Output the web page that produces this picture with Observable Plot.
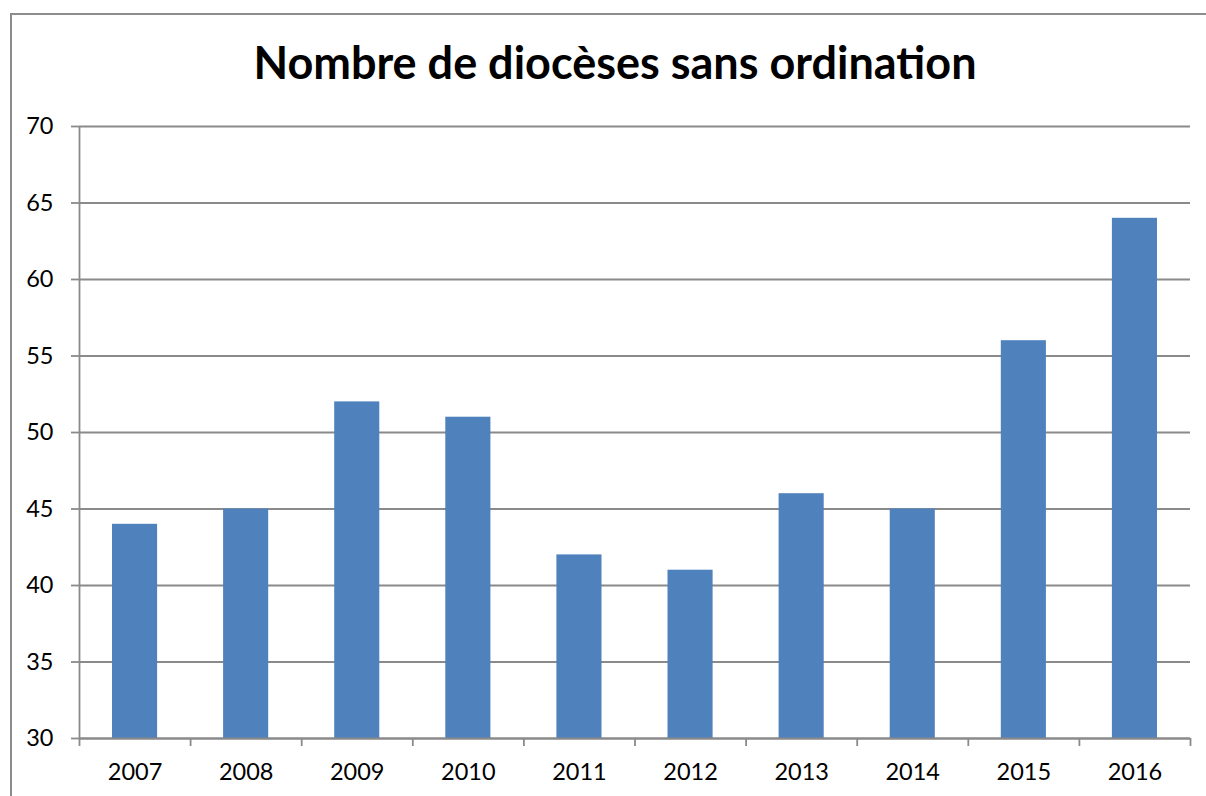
<!DOCTYPE html>
<html>
<head>
<meta charset="utf-8">
<script src="https://cdn.jsdelivr.net/npm/d3@7"></script>
<script src="https://cdn.jsdelivr.net/npm/@observablehq/plot@0.6"></script>
<style>
  html, body { margin: 0; padding: 0; background: #fff; }
  #wrap { position: relative; width: 1206px; height: 796px; overflow: hidden; }
  #frame { position: absolute; left: 10px; top: 13px; width: 1220px; height: 820px; border: 2px solid #8c8c8c; box-sizing: border-box; }
  #title { position: absolute; left: 0; width: 1230px; top: 35px; text-align: center; font-family: Lato, "Open Sans", sans-serif; font-weight: bold; font-size: 45px; color: #000; }
  #chart { position: absolute; left: 0; top: 0; }
</style>
</head>
<body>
<div id="wrap">
  <div id="frame"></div>
  <div id="title">Nombre de diocèses sans ordination</div>
  <div id="chart"></div>
</div>
<script>
const years = ["2007","2008","2009","2010","2011","2012","2013","2014","2015","2016"];
const values = [44, 45, 52, 51, 42, 41, 46, 45, 56, 64];
const yTicks = [30, 35, 40, 45, 50, 55, 60, 65, 70];

const data = years.map((y, i) => ({year: y, value: values[i], i}));
const boundaries = d3.range(years.length + 1);
const centers = years.map((_, i) => i + 0.5);

const plot = Plot.plot({
  width: 1206,
  height: 796,
  marginLeft: 79,
  marginRight: 16,
  marginTop: 126,
  marginBottom: 58,
  style: {fontFamily: "Lato, 'Open Sans', sans-serif", fontSize: "23.5px", color: "#000", background: "transparent"},
  x: {type: "linear", domain: [0, years.length]},
  y: {domain: [30, 70]},
  marks: [
    Plot.gridY(yTicks, {stroke: "#8a8a8a", strokeOpacity: 1, strokeWidth: 1.8}),
    Plot.rectY(data, {x1: "i", x2: d => d.i + 1, y1: 30, y2: "value", fill: "#4f81bd", insetLeft: 33, insetRight: 33}),
    Plot.ruleY([30], {stroke: "#8a8a8a", strokeWidth: 1.8}),
    Plot.ruleX([0], {stroke: "#8a8a8a", strokeWidth: 1.8}),
    Plot.axisY({ticks: yTicks, tickSize: 8, tickPadding: 18, stroke: "#8a8a8a", strokeWidth: 1.8, label: null, fill: "#000"}),
    Plot.axisX({ticks: boundaries, tickSize: 8, tickFormat: () => "", stroke: "#8a8a8a", strokeWidth: 1.8, label: null}),
    Plot.axisX({ticks: centers, tickSize: 0, tickPadding: 25, tickFormat: (d) => years[Math.floor(d)], label: null, fill: "#000"})
  ]
});
document.getElementById("chart").appendChild(plot);
</script>
</body>
</html>
